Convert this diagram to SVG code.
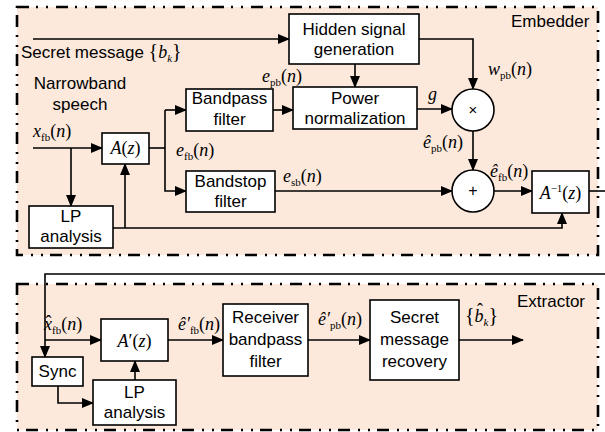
<svg xmlns="http://www.w3.org/2000/svg" width="605" height="432" viewBox="0 0 605 432">
<defs>
<marker id="ah" markerUnits="userSpaceOnUse" markerWidth="12" markerHeight="10" refX="11" refY="5" orient="auto">
<path d="M0,0 L12,5 L0,10 Z" fill="#000"/>
</marker>
<style>
.frame{fill:#fce9dc;stroke:#000;stroke-width:2.6;stroke-dasharray:12 7 2 8 2 8}
.box{fill:#fff;stroke:#000;stroke-width:1.6}
.ln{fill:none;stroke:#000;stroke-width:1.6}
.ar{fill:none;stroke:#000;stroke-width:1.6;marker-end:url(#ah)}
.t{font-family:"Liberation Sans",Arial,sans-serif;font-size:17px;fill:#000}
.m{font-family:"Liberation Serif","Times New Roman",serif;font-size:18px;fill:#000}
.i{font-style:italic}
.s{font-size:11px}
</style>
</defs>
<rect width="605" height="432" fill="#fff"/>
<rect class="frame" x="17" y="7" width="581" height="248"/>
<rect class="frame" x="17" y="284" width="581" height="146"/>
<text class="t" x="511" y="27">Embedder</text>
<text class="t" x="517" y="307">Extractor</text>

<g id="connectors">
<path class="ar" d="M33,39 H289"/>
<path class="ar" d="M355,64 V87"/>
<path class="ar" d="M419,39 H473 V89"/>
<path class="ar" d="M417,109 H452"/>
<path class="ar" d="M473,131 V170"/>
<path class="ar" d="M275,191 H452"/>
<path class="ar" d="M494,191 H532"/>
<path class="ln" d="M589,191 H605"/>
<path class="ar" d="M33,148 H102"/>
<path class="ar" d="M71,148 V206"/>
<path class="ln" d="M149,148 H165"/>
<path class="ar" d="M165,110 V191 H186"/>
<path class="ar" d="M165,110 H186"/>
<path class="ar" d="M273,110 H293"/>
<path class="ar" d="M113,228 H562 V213"/>
<path class="ar" d="M125,228 V164"/>
<path class="ln" d="M605,274 H45 V340"/>
<path class="ar" d="M45,340 V357"/>
<path class="ar" d="M45,340 H101"/>
<path class="ar" d="M58,386 V403 H93"/>
<path class="ar" d="M135,380 V361"/>
<path class="ar" d="M168,340 H223"/>
<path class="ar" d="M308,340 H370"/>
<path class="ar" d="M459,340 H523"/>
</g>

<g id="hidden"><rect class="box" x="289" y="14" width="130" height="50"/>
<text class="t" x="354" y="35" text-anchor="middle">Hidden signal</text>
<text class="t" x="354" y="55" text-anchor="middle">generation</text></g>
<g id="power"><rect class="box" x="293" y="87" width="124" height="42"/>
<text class="t" x="355" y="104" text-anchor="middle">Power</text>
<text class="t" x="355" y="124" text-anchor="middle">normalization</text></g>
<g id="bandpass"><rect class="box" x="186" y="89" width="87" height="42"/>
<text class="t" x="229.5" y="104" text-anchor="middle">Bandpass</text>
<text class="t" x="229.5" y="125" text-anchor="middle">filter</text></g>
<g id="bandstop"><rect class="box" x="186" y="171" width="89" height="41"/>
<text class="t" x="230.5" y="187" text-anchor="middle">Bandstop</text>
<text class="t" x="230.5" y="207" text-anchor="middle">filter</text></g>
<g id="lp1"><rect class="box" x="29" y="206" width="84" height="42"/>
<text class="t" x="71" y="222" text-anchor="middle">LP</text>
<text class="t" x="71" y="242" text-anchor="middle">analysis</text></g>
<g id="az"><rect class="box" x="102" y="133" width="47" height="31"/>
<text class="m" x="125.5" y="154" text-anchor="middle"><tspan class="i">A</tspan>(<tspan class="i">z</tspan>)</text></g>
<g id="mult"><circle class="box" cx="473" cy="110" r="21"/>
<text class="t" x="473" y="115" text-anchor="middle" style="font-size:15px">×</text></g>
<g id="add"><circle class="box" cx="473" cy="191" r="21"/>
<text class="t" x="473" y="196" text-anchor="middle" style="font-size:16px">+</text></g>
<g id="ainv"><rect class="box" x="532" y="171" width="57" height="42"/>
<text class="m" x="560.5" y="199" text-anchor="middle"><tspan class="i">A</tspan><tspan class="s" dy="-7">−1</tspan><tspan dy="7">(</tspan><tspan class="i">z</tspan>)</text></g>

<g id="sync"><rect class="box" x="32" y="357" width="51" height="29"/>
<text class="t" x="57.5" y="377" text-anchor="middle">Sync</text></g>
<g id="lp2"><rect class="box" x="93" y="380" width="83" height="45"/>
<text class="t" x="134.5" y="398" text-anchor="middle">LP</text>
<text class="t" x="134.5" y="418" text-anchor="middle">analysis</text></g>
<g id="apz"><rect class="box" x="101" y="319" width="67" height="42"/>
<text class="m" x="134.5" y="347" text-anchor="middle"><tspan class="i">A</tspan>′(<tspan class="i">z</tspan>)</text></g>
<g id="rbf"><rect class="box" x="223" y="304" width="85" height="72"/>
<text class="t" x="265.5" y="323" text-anchor="middle">Receiver</text>
<text class="t" x="265.5" y="345" text-anchor="middle">bandpass</text>
<text class="t" x="265.5" y="367" text-anchor="middle">filter</text></g>
<g id="smr"><rect class="box" x="370" y="300" width="89" height="80"/>
<text class="t" x="414.5" y="323" text-anchor="middle">Secret</text>
<text class="t" x="414.5" y="345" text-anchor="middle">message</text>
<text class="t" x="414.5" y="367" text-anchor="middle">recovery</text></g>

<g id="labels">
<text class="t" x="21" y="58">Secret message <tspan class="m" style="font-size:20px">{<tspan class="i" style="font-size:18px">b</tspan><tspan class="s i" dy="4">k</tspan><tspan dy="-4">}</tspan></tspan></text>
<text class="t" x="80" y="89" text-anchor="middle">Narrowband</text>
<text class="t" x="80" y="110" text-anchor="middle">speech</text>
<text class="m" x="33" y="137"><tspan class="i">x</tspan><tspan class="s" dy="4">fb</tspan><tspan dy="-4">(</tspan><tspan class="i">n</tspan>)</text>
<text class="m" x="262" y="82"><tspan class="i">e</tspan><tspan class="s" dy="4">pb</tspan><tspan dy="-4">(</tspan><tspan class="i">n</tspan>)</text>
<text class="m" x="488" y="75"><tspan class="i">w</tspan><tspan class="s" dy="4">pb</tspan><tspan dy="-4">(</tspan><tspan class="i">n</tspan>)</text>
<text class="m i" x="428" y="100">g</text>
<text class="m" x="423" y="148"><tspan class="i">ê</tspan><tspan class="s" dy="4">pb</tspan><tspan dy="-4">(</tspan><tspan class="i">n</tspan>)</text>
<text class="m" x="490" y="177"><tspan class="i">ê</tspan><tspan class="s" dy="4">fb</tspan><tspan dy="-4">(</tspan><tspan class="i">n</tspan>)</text>
<text class="m" x="176" y="156"><tspan class="i">e</tspan><tspan class="s" dy="4">fb</tspan><tspan dy="-4">(</tspan><tspan class="i">n</tspan>)</text>
<text class="m" x="283" y="182"><tspan class="i">e</tspan><tspan class="s" dy="4">sb</tspan><tspan dy="-4">(</tspan><tspan class="i">n</tspan>)</text>
<text class="m" x="44" y="330"><tspan class="i">x</tspan><tspan dx="-6.5" dy="-2">ˆ</tspan><tspan class="s" dx="0.5" dy="6">fb</tspan><tspan dy="-4">(</tspan><tspan class="i">n</tspan>)</text>
<text class="m" x="178" y="330"><tspan class="i">ê′</tspan><tspan class="s" dy="4">fb</tspan><tspan dy="-4">(</tspan><tspan class="i">n</tspan>)</text>
<text class="m" x="318" y="325"><tspan class="i">ê′</tspan><tspan class="s" dy="4">pb</tspan><tspan dy="-4">(</tspan><tspan class="i">n</tspan>)</text>
<text class="m" x="465" y="322" style="font-size:20px">{<tspan class="i" style="font-size:18px">b</tspan><tspan style="font-size:18px" dx="-6.5" dy="-6">ˆ</tspan><tspan class="s i" dx="0.5" dy="10">k</tspan><tspan dy="-4">}</tspan></text>
</g>
</svg>
